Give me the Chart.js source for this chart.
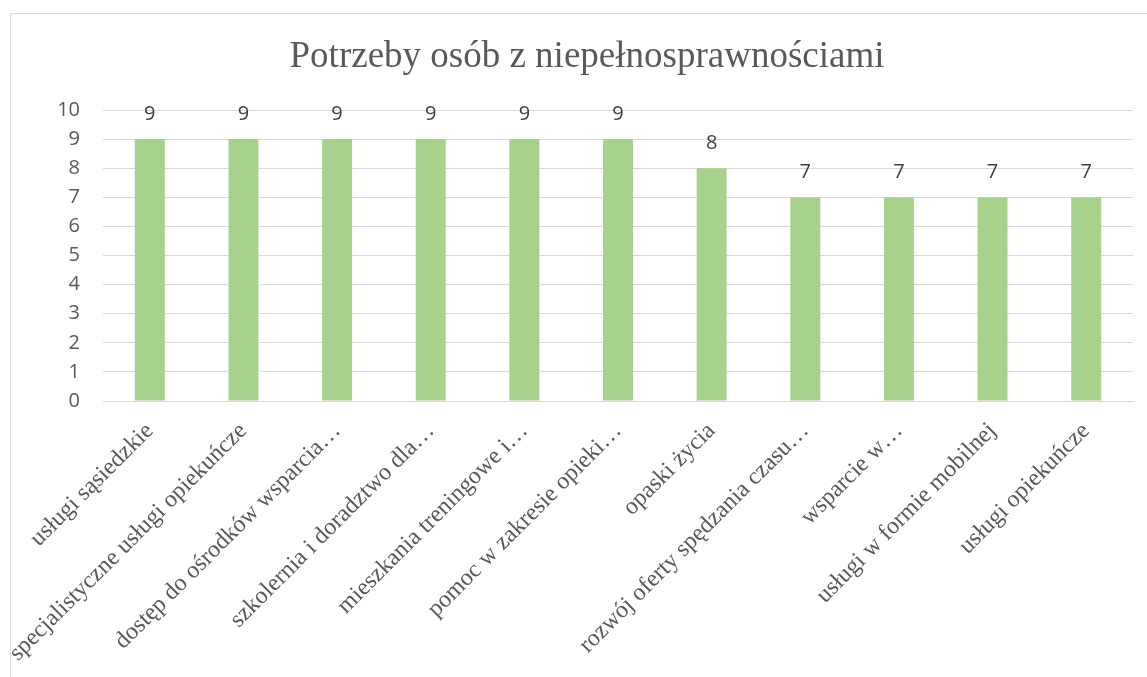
<!DOCTYPE html>
<html lang="pl">
<head>
<meta charset="utf-8">
<title>Potrzeby osób z niepełnosprawnościami</title>
<script src="https://cdn.jsdelivr.net/npm/chart.js@4.4.0/dist/chart.umd.min.js"></script>
<style>
    html, body { margin: 0; padding: 0; background: #ffffff; overflow: hidden; }
    #frame {
        position: absolute; left: 10px; top: 13px; width: 1300px; height: 800px;
        border: 1px solid #d9d9d9; box-sizing: border-box;
    }
    #wrap { position: absolute; left: 0; top: 0; width: 1147px; height: 677px; }
</style>
</head>
<body>
<div id="frame"></div>
<div id="wrap"><canvas id="myChart" width="1147" height="677"></canvas></div>
<script>
// Datos del gráfico
const chartTitle = 'Potrzeby osób z niepełnosprawnościami';
const categories = [
    'usługi sąsiedzkie',
    'specjalistyczne usługi opiekuńcze',
    'dostęp do ośrodków wsparcia…',
    'szkolernia i doradztwo dla…',
    'mieszkania treningowe i…',
    'pomoc w zakresie opieki…',
    'opaski życia',
    'rozwój oferty spędzania czasu…',
    'wsparcie w…',
    'usługi w formie mobilnej',
    'usługi opiekuńcze'
];
const values = [9, 9, 9, 9, 9, 9, 8, 7, 7, 7, 7];
const yTicks = [0, 1, 2, 3, 4, 5, 6, 7, 8, 9, 10];

let myChart;

// Etiquetas de valores encima de las barras
const valueLabels = {
    id: 'valueLabels',
    afterDatasetsDraw(chart) {
        const ctx = chart.ctx;
        const meta = chart.getDatasetMeta(0);
        ctx.save();
        ctx.font = '20px "Open Sans"';
        ctx.fillStyle = '#404040';
        ctx.textAlign = 'center';
        ctx.textBaseline = 'middle';
        meta.data.forEach((bar, i) => {
            ctx.fillText(String(values[i]), bar.x, bar.y - 25);
        });
        ctx.restore();
    }
};

function generateChart() {
    const ctx = document.getElementById('myChart').getContext('2d');
    myChart = new Chart(ctx, {
        type: 'bar',
        data: {
            labels: categories,
            datasets: [{
                data: values,
                backgroundColor: '#a9d18e',
                borderWidth: 0,
                barPercentage: 0.32,
                categoryPercentage: 1
            }]
        },
        plugins: [valueLabels],
        options: {
            responsive: false,
            animation: false,
            layout: { padding: { left: 41, right: 14, top: 0, bottom: 0 } },
            plugins: {
                legend: { display: false },
                tooltip: { enabled: false },
                title: {
                    display: true,
                    text: chartTitle,
                    color: '#595959',
                    font: { family: '"Liberation Serif"', size: 37, weight: 'normal', lineHeight: 1.2 },
                    padding: { top: 35, bottom: 30.6 }
                }
            },
            scales: {
                x: {
                    grid: { display: false, drawTicks: false },
                    border: { display: true, color: '#d9d9d9', width: 1 },
                    ticks: {
                        autoSkip: false,
                        minRotation: 45,
                        maxRotation: 45,
                        padding: 16,
                        color: '#595959',
                        font: { family: '"Liberation Serif"', size: 24 }
                    },
                    afterFit(scale) { scale.height = 276; }
                },
                y: {
                    min: yTicks[0],
                    max: yTicks[yTicks.length - 1],
                    afterBuildTicks(scale) { scale.ticks = yTicks.map(v => ({ value: v })); },
                    grid: { color: '#d9d9d9', lineWidth: 1, drawTicks: false },
                    border: { display: false },
                    ticks: {
                        padding: 23,
                        color: '#595959',
                        font: { family: '"Open Sans"', size: 20 }
                    },
                    afterFit(scale) { scale.width = 62; }
                }
            }
        }
    });
}

generateChart();
</script>
</body>
</html>
